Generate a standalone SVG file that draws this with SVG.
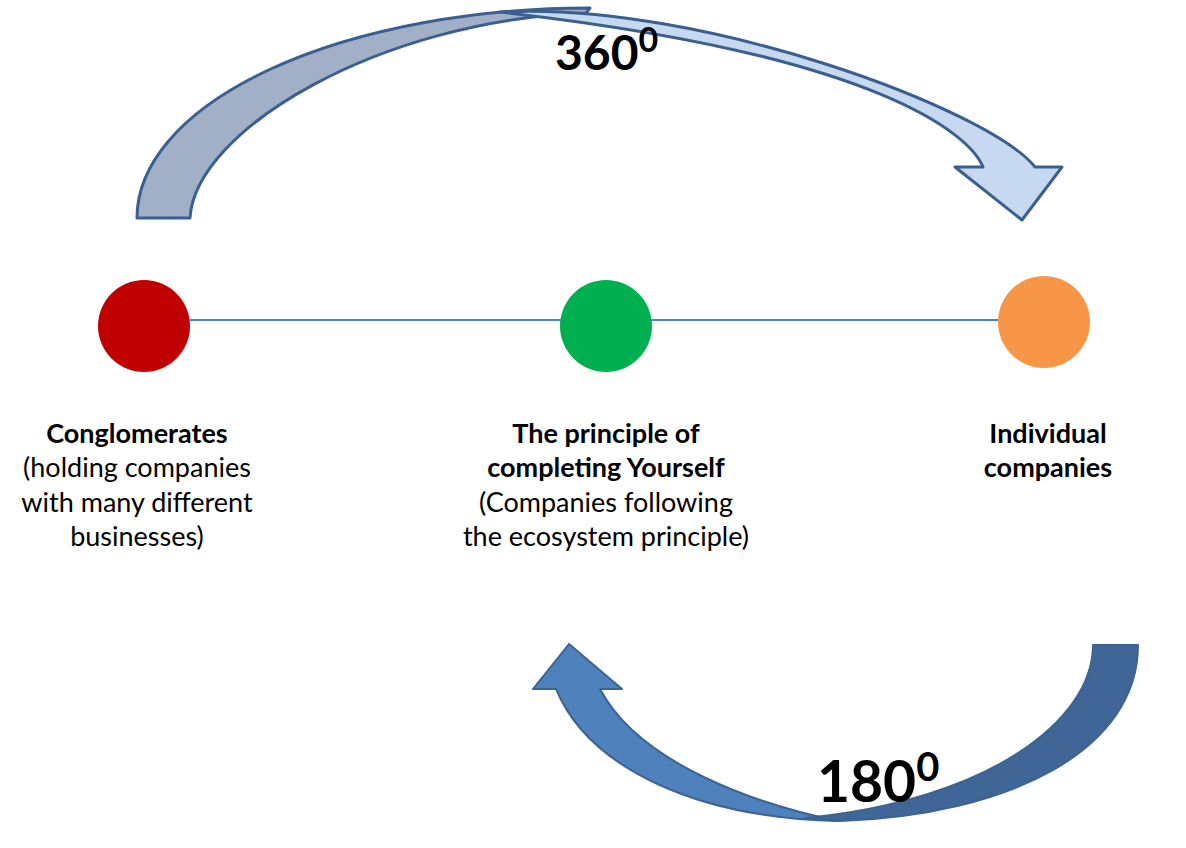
<svg xmlns="http://www.w3.org/2000/svg" width="1186" height="848" viewBox="0 0 1186 848">
<style>
.lbl{font-family:Lato,"Liberation Sans",sans-serif;font-size:27px;fill:#000;text-anchor:middle}
.b{font-weight:bold}
.deg{font-family:Lato,"Liberation Sans",sans-serif;font-weight:bold;fill:#000}
.topA{stroke:#3b5f8f;stroke-width:3;stroke-linejoin:round}
.botA{stroke:#3d6391;stroke-width:2;stroke-linejoin:round}
</style>
<rect width="1186" height="848" fill="#fff"/>
<g id="connectors">
<line x1="190" y1="320" x2="562" y2="320" stroke="#4f81bd" stroke-width="2"/>
<line x1="650" y1="320" x2="999" y2="320" stroke="#4f81bd" stroke-width="2"/>
</g>
<g id="arrow-360">
<path class="topA" fill="#a1b0c6" d="M137,218 A453,210 0 0 1 590,8 L586,13 C380,20 195,130 190,218 Z"/>
<path class="topA" fill="#c6d9f1" d="M500,12 C700,1 990,110 1035,167 L1062,167 L1022,220 L955,167 L983,167 C970,135 880,55 500,12 Z"/>
<text class="deg" x="555" y="70" font-size="48">360<tspan font-size="34" dy="-18">0</tspan></text>
</g>
<g id="arrow-180">
<path class="botA" fill="#4f81bd" d="M600,689 L622,689 L569,644 L533,689 L556,689 C590,770 700,818 838,821 C760,805 640,765 600,689 Z"/>
<path class="botA" fill="#3f6696" d="M1093,645 L1138,645 C1138,750 1010,815 840,821 L805,818 C990,800 1093,720 1093,645 Z"/>
<text class="deg" x="817" y="802" font-size="57">180<tspan font-size="40" dy="-21">0</tspan></text>
</g>
<g id="node-conglomerates">
<circle cx="144" cy="326" r="46" fill="#c00000"/>
<text class="lbl b" x="137" y="443">Conglomerates</text>
<text class="lbl" x="137" y="477">(holding companies</text>
<text class="lbl" x="137" y="512">with many different</text>
<text class="lbl" x="137" y="546">businesses)</text>
</g>
<g id="node-principle">
<circle cx="606" cy="326" r="46" fill="#00b050"/>
<text class="lbl b" x="606" y="443">The principle of</text>
<text class="lbl b" x="606" y="477">completing Yourself</text>
<text class="lbl" x="606" y="512">(Companies following</text>
<text class="lbl" x="606" y="546">the ecosystem principle)</text>
</g>
<g id="node-individual">
<circle cx="1044" cy="322" r="46" fill="#f79646"/>
<text class="lbl b" x="1048" y="443">Individual</text>
<text class="lbl b" x="1048" y="477">companies</text>
</g>
</svg>
